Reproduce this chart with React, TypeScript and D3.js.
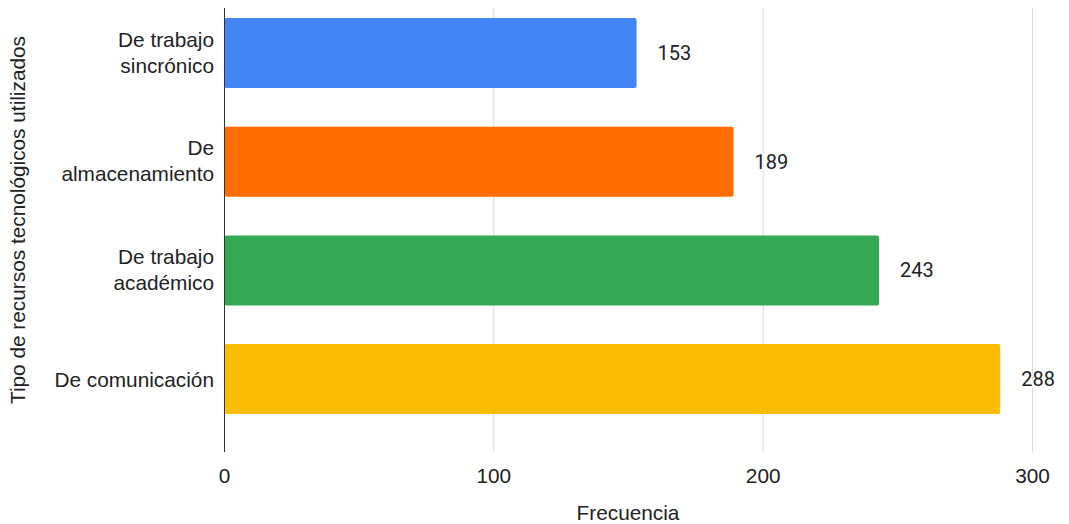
import React from "react";
import * as d3 from "d3";

const categories = ["De trabajo\nsincrónico", "De\nalmacenamiento", "De trabajo\nacadémico", "De comunicación"];
const values = [153, 189, 243, 288];
const colors = ["#4285F4", "#FF6D01", "#34A853", "#FBBC04"];
const xTicks = [0, 100, 200, 300];

const W = 1069;
const H = 524;
const FONT = "Liberation Sans, Arial, sans-serif";
const FS = 20.8;

export default function App() {
  const x = d3.scaleLinear().domain([0, 300]).range([224.5, 1032.5]);
  const y = d3
    .scaleBand<string>()
    .domain(categories)
    .range([-1.3, 433.4])
    .paddingInner(0.356)
    .paddingOuter(0.178);
  const plotTop = 8;
  const plotBottom = 452;

  return (
    <svg
      width={W}
      height={H}
      style={{ position: "absolute", left: 0, top: 0, background: "#fff" }}
      fontFamily={FONT}
    >
      {xTicks.slice(1).map((t) => (
        <line key={t} x1={x(t)} x2={x(t)} y1={plotTop} y2={plotBottom} stroke="#d9d9d9" strokeWidth={1} />
      ))}
      {categories.map((c, i) => (
        <rect
          key={c}
          x={x(0)}
          y={y(c)!}
          width={x(values[i]) - x(0)}
          height={y.bandwidth()}
          fill={colors[i]}
          rx={2}
        />
      ))}
      <line x1={x(0)} x2={x(0)} y1={plotTop} y2={plotBottom} stroke="#333" strokeWidth={1} />
      {xTicks.map((t) => (
        <text key={t} x={x(t)} y={483} textAnchor="middle" fontSize={FS} fill="#222">
          {t}
        </text>
      ))}
      {categories.map((c, i) => {
        const lines = c.split("\n");
        const cy = y(c)! + y.bandwidth() / 2;
        return (
          <text key={c} textAnchor="end" fontSize={FS} fill="#222">
            {lines.length === 1 ? (
              <tspan x={214} y={cy + 7.5}>{lines[0]}</tspan>
            ) : (
              lines.map((l, j) => (
                <tspan key={j} x={214} y={cy - 6.5 + j * 26}>
                  {l}
                </tspan>
              ))
            )}
          </text>
        );
      })}
      {categories.map((c, i) => (
        <text
          key={c}
          x={x(values[i]) + 21}
          y={y(c)! + y.bandwidth() / 2 + 7}
          fontSize={20}
          fontFamily="Roboto, sans-serif"
          fill="#222"
          stroke="#fff"
          strokeWidth={3}
          paintOrder="stroke"
        >
          {values[i]}
        </text>
      ))}
      <text x={628} y={520} textAnchor="middle" fontSize={FS} fill="#222">
        Frecuencia
      </text>
      <text
        transform={`translate(25, 220) rotate(-90)`}
        textAnchor="middle"
        fontSize={FS}
        fill="#222"
      >
        Tipo de recursos tecnológicos utilizados
      </text>
    </svg>
  );
}
